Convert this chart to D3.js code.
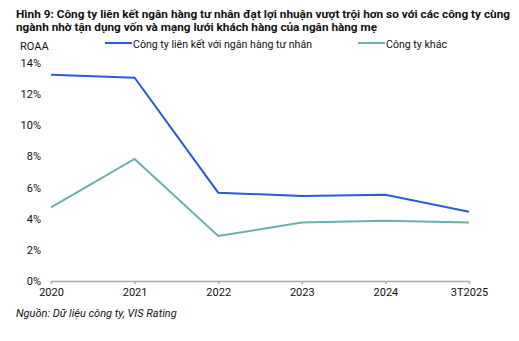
<!DOCTYPE html>
<html><head><meta charset="utf-8">
<script src="https://cdn.jsdelivr.net/npm/d3@7/dist/d3.min.js"></script>
<style>
body{margin:0;background:#fff;}
text{font-family:Roboto,"Noto Sans",sans-serif;fill:#111;}
</style></head>
<body><svg id="c" width="519" height="341"></svg>
<script>
const categories = ["2020","2021","2022","2023","2024","3T2025"];
const seriesNames = ["Công ty liên kết với ngân hàng tư nhân","Công ty khác"];
const privateBank = [13.25, 13.06, 5.67, 5.46, 5.54, 4.45];
const others = [4.73, 7.84, 2.89, 3.75, 3.87, 3.75];
const yTicks = [0,2,4,6,8,10,12,14];
const colors = ["#2a5bd6","#6aaeb0"];
const titleLines = ["Hình 9: Công ty liên kết ngân hàng tư nhân đạt lợi nhuận vượt trội hơn so với các công ty cùng","ngành nhờ tận dụng vốn và mạng lưới khách hàng của ngân hàng mẹ"];
const source = "Nguồn: Dữ liệu công ty, VIS Rating";

const svg = d3.select("#c");
const x = d3.scalePoint().domain(categories).range([51,469]);
const y = d3.scaleLinear().domain([0,14]).range([281,63]);

const titleWidths = [494, 361];
svg.selectAll("text.title").data(titleLines).enter().append("text")
  .attr("x",16).attr("y",(d,i)=>18+i*13)
  .attr("textLength",(d,i)=>titleWidths[i]).attr("lengthAdjust","spacingAndGlyphs")
  .style("font-weight","bold").style("font-size","11.8px").text(d=>d);

svg.append("text").attr("x",20).attr("y",49.5).style("font-size","11px").text("ROAA");

const legX = [105,358];
seriesNames.forEach((n,i)=>{
  svg.append("line").attr("x1",legX[i]).attr("x2",legX[i]+27).attr("y1",43).attr("y2",43)
    .attr("stroke",colors[i]).attr("stroke-width",2);
  svg.append("text").attr("x",legX[i]+28).attr("y",48).style("font-size","10.6px").text(n);
});

const yAxis = d3.axisLeft(y).tickValues(yTicks).tickFormat(d=>d+"%").tickSize(0).tickPadding(0);
const gy = svg.append("g").attr("transform","translate(41,0)").call(yAxis);
gy.select(".domain").remove();
gy.selectAll("text").style("font-size","11px").style("font-family","Roboto,sans-serif").attr("fill","#111");

const xAxis = d3.axisBottom(x).tickSizeInner(3).tickSizeOuter(0).tickPadding(4);
const gx = svg.append("g").attr("transform","translate(0,281)").call(xAxis);
gx.select(".domain").attr("stroke","#aaa").attr("stroke-width",1.5);
gx.selectAll(".tick line").attr("stroke","#aaa").attr("stroke-width",1.5);
gx.selectAll("text").style("font-size","11px").style("font-family","Roboto,sans-serif").attr("fill","#111");

const line = d3.line().x((d,i)=>x(categories[i])).y(d=>y(d));
[privateBank, others].forEach((s,i)=>{
  svg.append("path").datum(s).attr("d",line).attr("fill","none")
    .attr("stroke",colors[i]).attr("stroke-width",2);
});

svg.append("text").attr("x",16).attr("y",317).style("font-style","italic").style("font-size","11px").text(source);
</script></body></html>
